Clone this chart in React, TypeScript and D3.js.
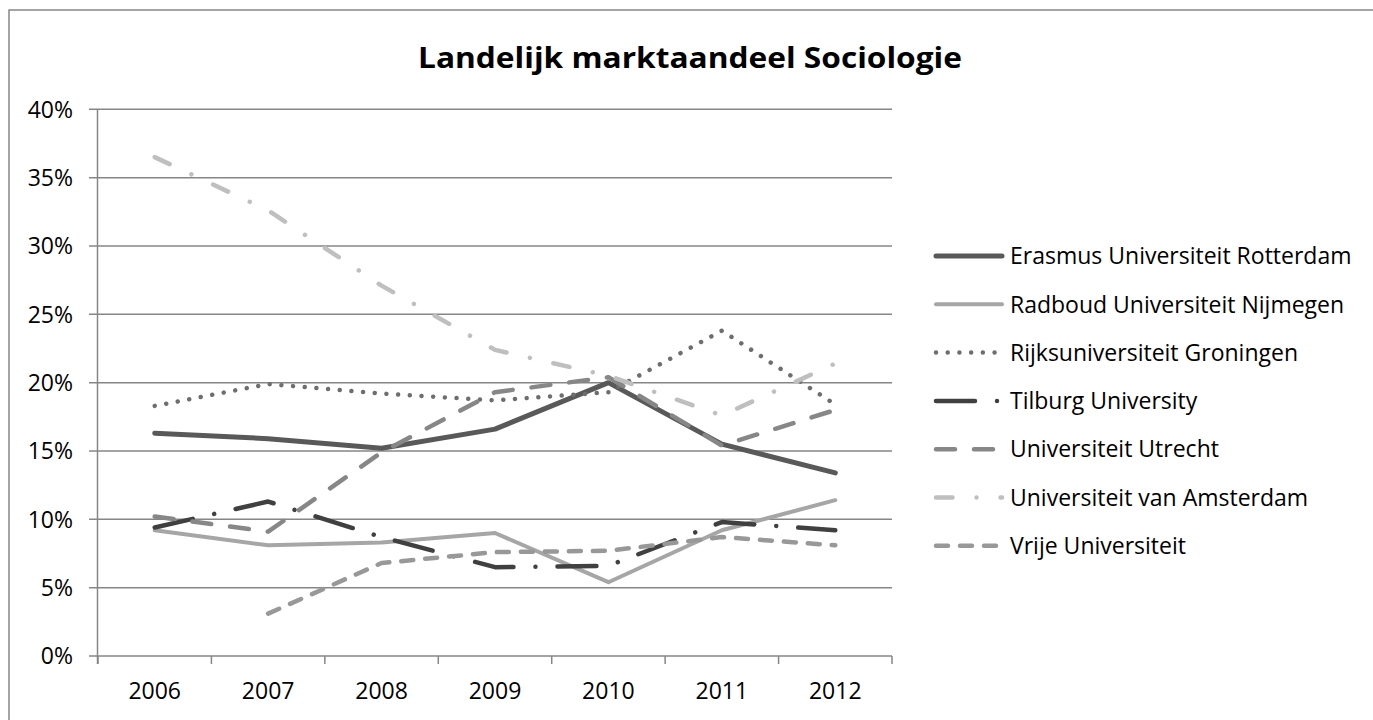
import React from "react";
import * as d3 from "d3";

const years = ["2006", "2007", "2008", "2009", "2010", "2011", "2012"];
const yTicks = [0, 5, 10, 15, 20, 25, 30, 35, 40];

const seriesNames = [
  "Erasmus Universiteit Rotterdam",
  "Radboud Universiteit Nijmegen",
  "Rijksuniversiteit Groningen",
  "Tilburg University",
  "Universiteit Utrecht",
  "Universiteit van Amsterdam",
  "Vrije Universiteit",
];

const erasmus = [16.3, 15.9, 15.2, 16.6, 20.0, 15.5, 13.4];
const radboud = [9.2, 8.1, 8.3, 9.0, 5.4, 9.2, 11.4];
const groningen = [18.3, 19.9, 19.2, 18.7, 19.3, 23.8, 18.4];
const tilburg = [9.4, 11.3, 8.7, 6.5, 6.6, 9.8, 9.2];
const utrecht = [10.2, 9.1, 14.9, 19.3, 20.4, 15.4, 18.0];
const amsterdam = [36.5, 32.6, 27.1, 22.4, 20.5, 17.6, 21.4];
const vrije: (number | null)[] = [null, 3.1, 6.8, 7.6, 7.7, 8.7, 8.1];

const seriesValues = [erasmus, radboud, groningen, tilburg, utrecht, amsterdam, vrije];

const styles = [
  { color: "#595959", width: 5, dash: "" },
  { color: "#a6a6a6", width: 4, dash: "" },
  { color: "#6e6e6e", width: 4.5, dash: "0.01 11.7" },
  { color: "#404040", width: 4.5, dash: "39 22 0.01 22" },
  { color: "#878787", width: 4.5, dash: "19 19" },
  { color: "#bfbfbf", width: 4.5, dash: "16.5 24 0.01 24" },
  { color: "#989898", width: 4.5, dash: "12 12" },
];

const FONT = "'Open Sans', 'Noto Sans', sans-serif";
const FS = 23;

export default function App() {
  const x = d3.scalePoint<string>().domain(years).range([98, 892]).padding(0.5);
  const y = d3.scaleLinear().domain([0, 40]).range([656, 109.3]);
  const band = (892 - 98) / years.length;

  const line = d3
    .line<number | null>()
    .defined((d) => d !== null)
    .x((_, i) => x(years[i]) as number)
    .y((d) => y(d as number));

  const legendY0 = 256;
  const legendStep = 48.3;

  return (
    <svg
      width={1373}
      height={720}
      style={{ position: "absolute", left: 0, top: 0, background: "#fff" }}
    >
      <rect x={0} y={0} width={1373} height={720} fill="#fff" />
      <rect x={9} y={10} width={1380} height={730} fill="#fff" stroke="#868686" strokeWidth={1.5} />
      <text
        x={690}
        y={68}
        textAnchor="middle"
        fontFamily={FONT}
        fontWeight="bold"
        fontSize={28}
        textLength={544}
        lengthAdjust="spacingAndGlyphs"
        fill="#000"
      >
        Landelijk marktaandeel Sociologie
      </text>

      {/* grid lines */}
      {yTicks.map((t) => (
        <line key={t} x1={89} x2={892} y1={y(t)} y2={y(t)} stroke="#868686" strokeWidth={1.5} />
      ))}
      {/* y axis */}
      <line x1={97.5} x2={97.5} y1={y(40)} y2={y(0) + 8} stroke="#868686" strokeWidth={1.5} />
      {yTicks.map((t) => (
        <text
          key={"yl" + t}
          x={73}
          y={y(t)}
          dy="0.36em"
          textAnchor="end"
          fontFamily={FONT}
          fontSize={FS}
          fill="#000"
        >
          {t + "%"}
        </text>
      ))}
      {/* x ticks */}
      {d3.range(years.length + 1).map((k) => (
        <line
          key={"xt" + k}
          x1={98 + k * band}
          x2={98 + k * band}
          y1={y(0)}
          y2={y(0) + 8}
          stroke="#868686"
          strokeWidth={1.5}
        />
      ))}
      {years.map((yr) => (
        <text
          key={yr}
          x={x(yr)}
          y={699}
          textAnchor="middle"
          fontFamily={FONT}
          fontSize={FS}
          fill="#000"
        >
          {yr}
        </text>
      ))}

      {/* series */}
      {seriesValues.map((vals, i) => (
        <path
          key={"s" + i}
          d={line(vals) || ""}
          fill="none"
          stroke={styles[i].color}
          strokeWidth={styles[i].width}
          strokeDasharray={styles[i].dash || undefined}
          strokeLinecap="round"
          strokeLinejoin="round"
        />
      ))}

      {/* legend */}
      {seriesNames.map((name, i) => {
        const ly = legendY0 + i * legendStep;
        return (
          <g key={"lg" + i}>
            <line
              x1={936}
              x2={1002}
              y1={ly}
              y2={ly}
              stroke={styles[i].color}
              strokeWidth={styles[i].width}
              strokeDasharray={styles[i].dash || undefined}
              strokeLinecap="round"
            />
            <text x={1010} y={ly} dy="0.36em" fontFamily={FONT} fontSize={FS} fill="#000">
              {name}
            </text>
          </g>
        );
      })}
    </svg>
  );
}
